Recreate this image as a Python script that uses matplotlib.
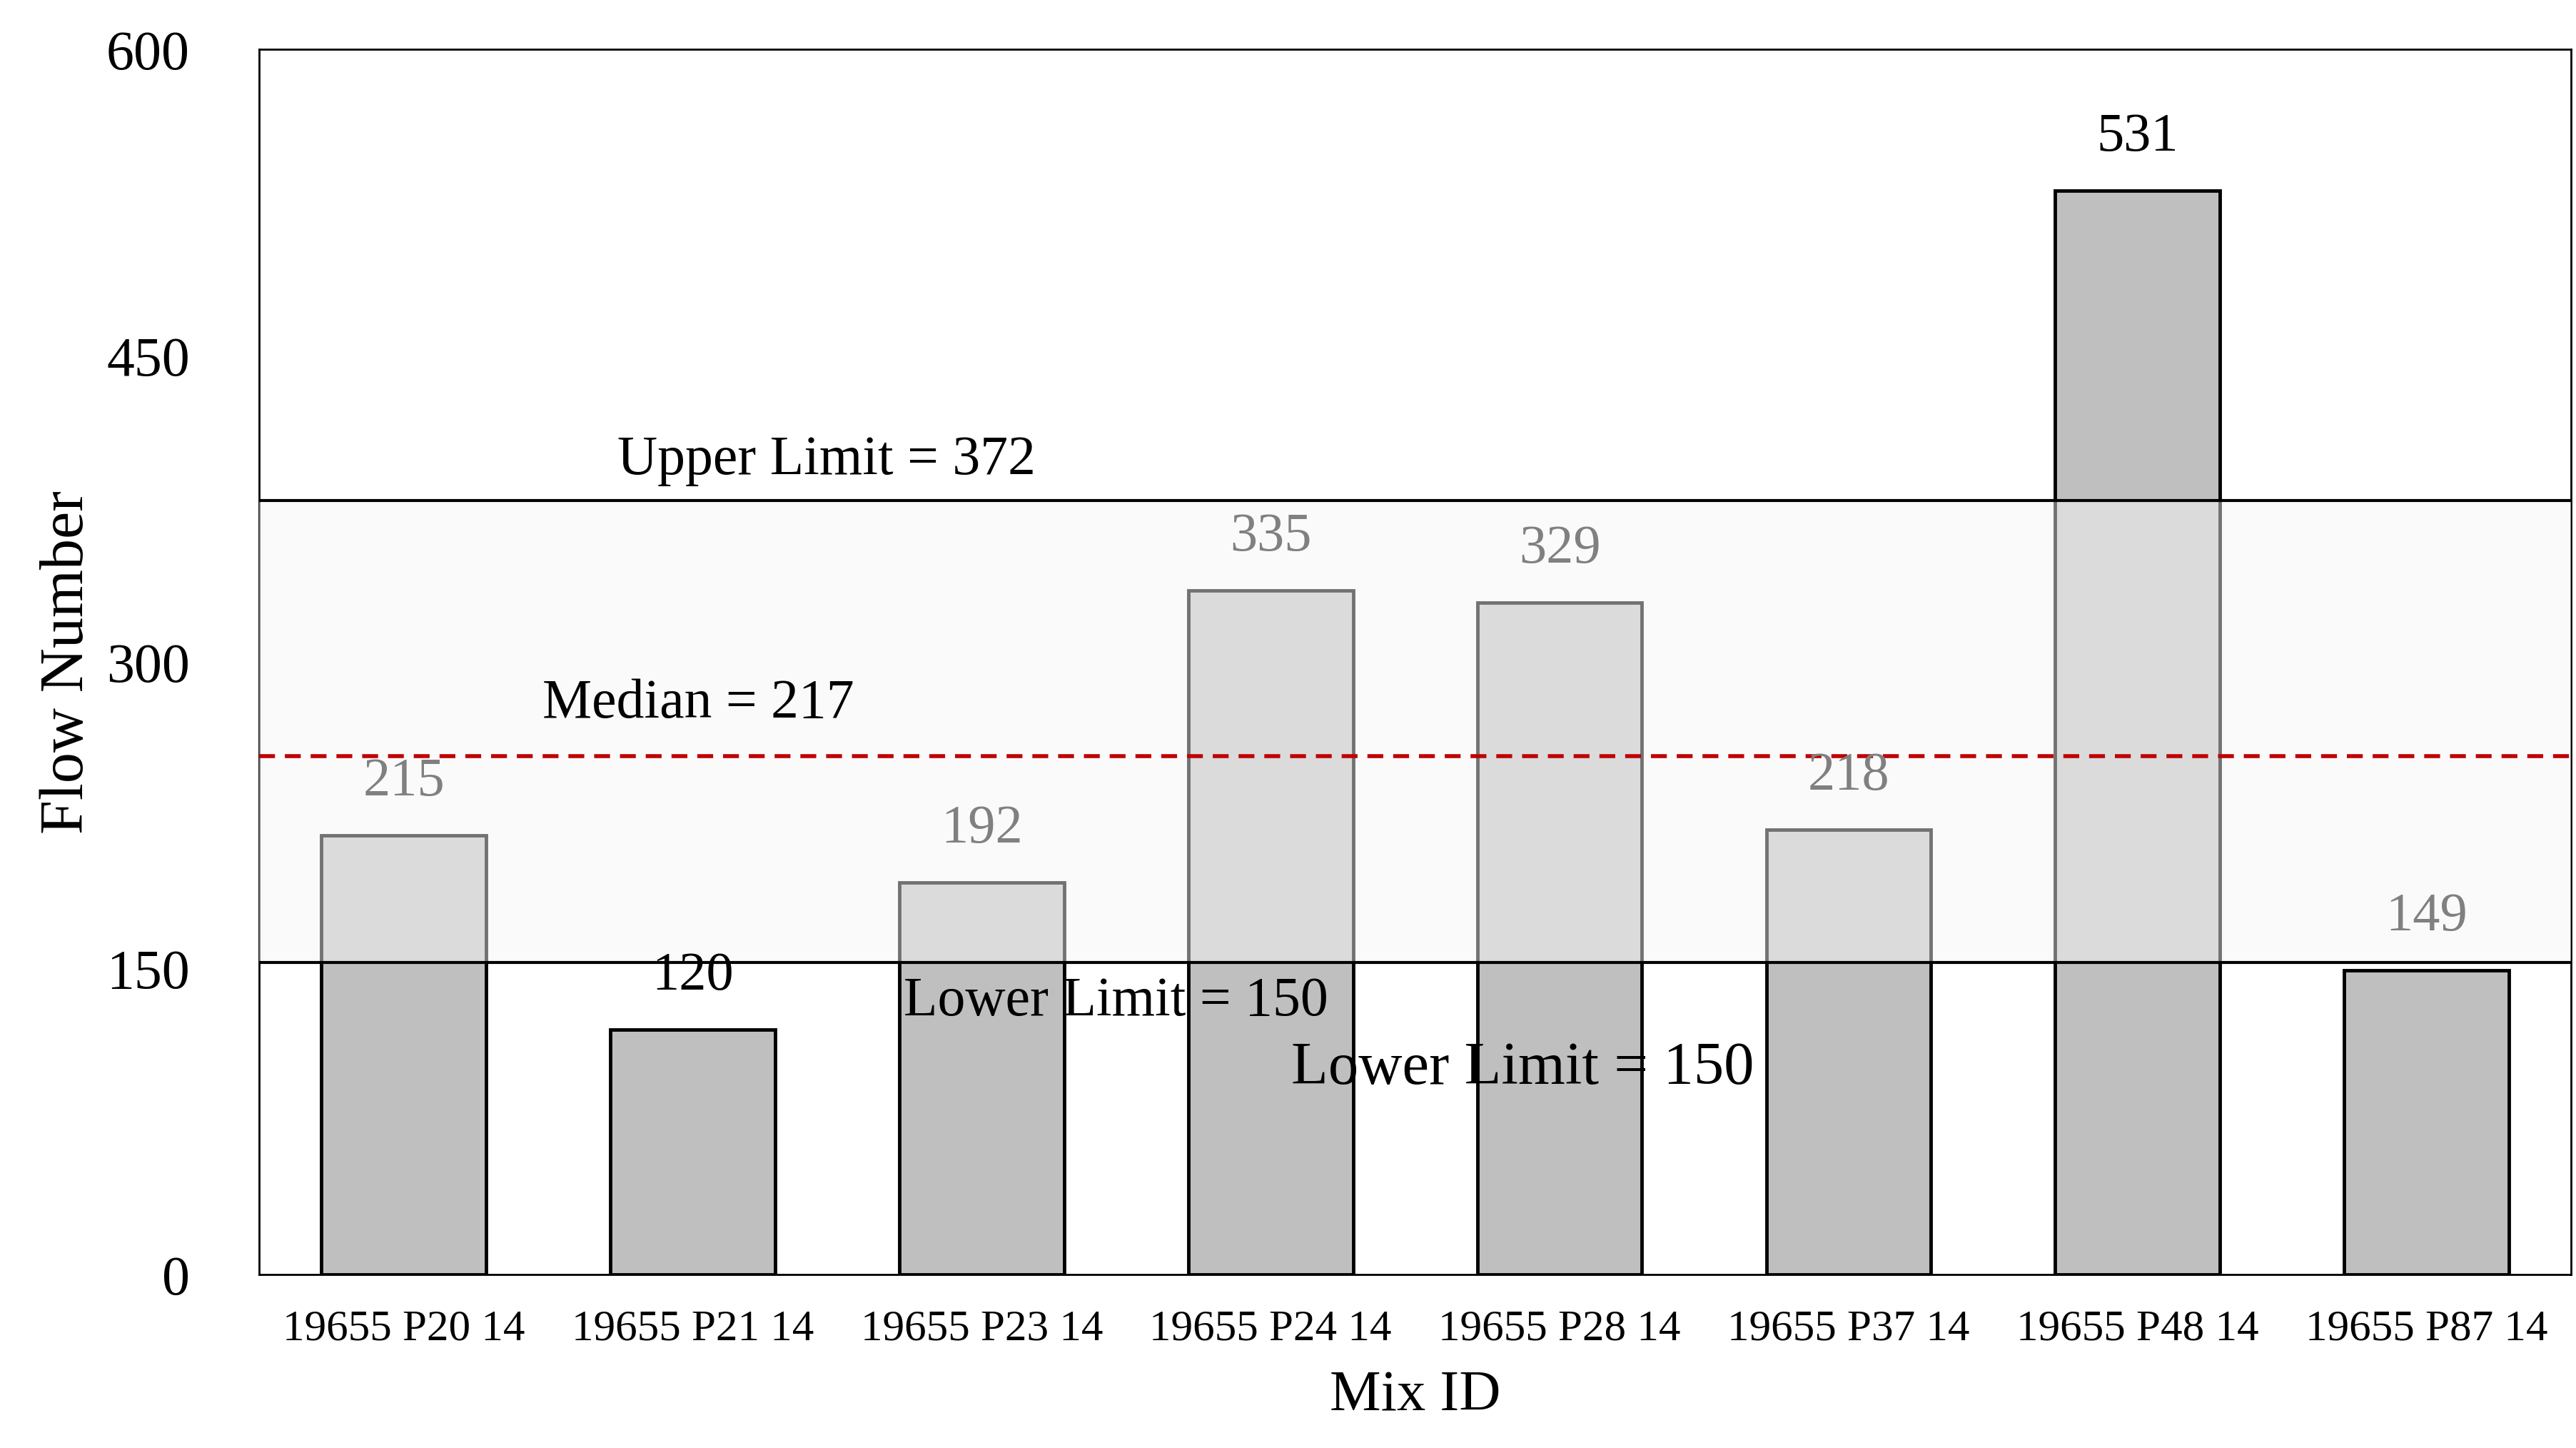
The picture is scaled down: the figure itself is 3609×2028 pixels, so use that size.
import matplotlib
matplotlib.use("Agg")
import matplotlib.pyplot as plt
from matplotlib.patches import Rectangle

categories = ["19655 P20 14", "19655 P21 14", "19655 P23 14", "19655 P24 14",
              "19655 P28 14", "19655 P37 14", "19655 P48 14", "19655 P87 14"]
values = [215, 120, 192, 335, 329, 218, 531, 149]
label_colors = ["#808080", "black", "#808080", "#808080", "#808080", "#808080", "black", "#808080"]
upper_pos, lower_pos, median_pos = 379, 153, 254
upper_label, lower_label, median_label = 372, 150, 217
yticks = [0, 150, 300, 450, 600]

plt.rcParams['font.family'] = ['Liberation Serif', 'DejaVu Serif']
fig = plt.figure(figsize=(36.09, 20.28), dpi=100)
ax = fig.add_axes([0.1006, 0.1197, 0.8975, 0.8461])
x = range(len(categories))
ax.set_xlim(-0.5, len(categories) - 0.5)
ax.set_ylim(0, 600)
ax.add_patch(Rectangle((-0.5, lower_pos), len(categories), upper_pos - lower_pos,
                       facecolor="#f7f7f7", edgecolor="none", zorder=0))
ax.bar(x, values, width=0.57, color="#bfbfbf", edgecolor="black", linewidth=3.5, zorder=2)
ax.add_patch(Rectangle((-0.5, lower_pos), len(categories), upper_pos - lower_pos,
                       facecolor="white", alpha=0.45, edgecolor="none", zorder=3))
ax.axhline(upper_pos, color="black", lw=3, zorder=4)
ax.axhline(lower_pos, color="black", lw=3, zorder=4)
ax.axhline(median_pos, color="#c00000", lw=4, ls=(0, (4, 2.5)), zorder=4)
for i, v in enumerate(values):
    ax.text(i, v + 14, str(v), ha="center", va="bottom", fontsize=55, color=label_colors[i], zorder=5)
ax.text(0.74, upper_pos + 7, f"Upper Limit = {upper_label}", fontsize=56, va="bottom", zorder=5)
ax.text(0.48, median_pos + 13, f"Median = {median_label}", fontsize=56, va="bottom", zorder=5)
ax.text(1.73, 121, f"Lower Limit = {lower_label}", fontsize=56, va="bottom", zorder=5)
ax.text(3.07, 87, f"Lower Limit = {lower_label}", fontsize=61, va="bottom", zorder=5)
ax.set_xticks(list(x))
ax.set_xticklabels(categories, fontsize=44)
ax.set_yticks(yticks)
ax.set_yticklabels([str(t) for t in yticks], fontsize=56)
ax.tick_params(length=0, pad=35)
ax.tick_params(axis="y", pad=70)
ax.set_xlabel("Mix ID", fontsize=58, labelpad=22)
ax.set_ylabel("Flow Number", fontsize=62, labelpad=10)
for s in ax.spines.values():
    s.set_linewidth(2)
fig.savefig("out.png", dpi=100)
